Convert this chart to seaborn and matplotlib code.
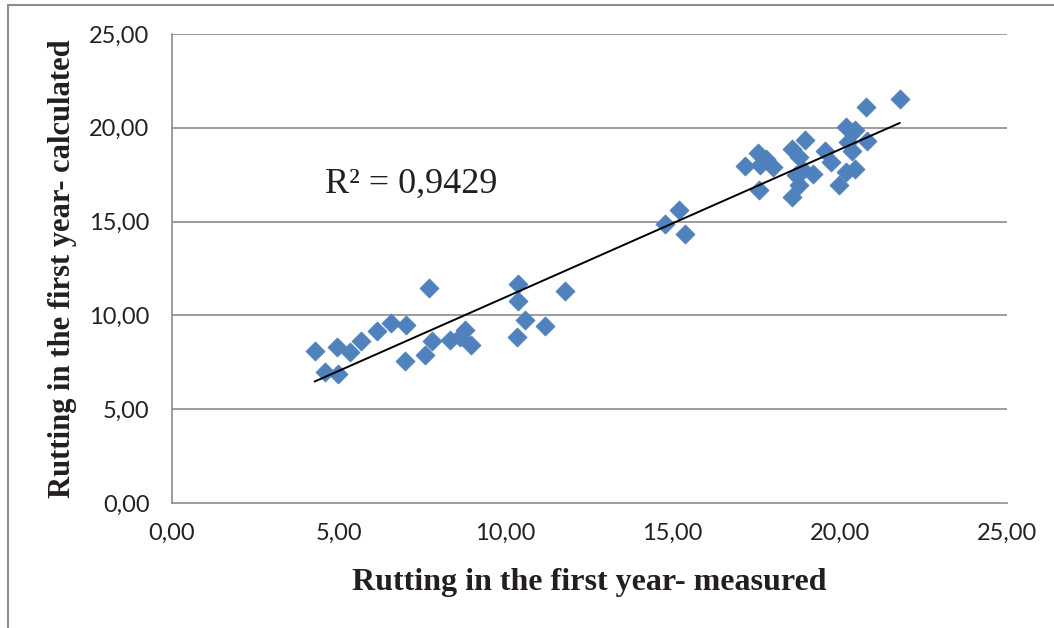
import matplotlib
matplotlib.use("Agg")
from matplotlib import pyplot as plt
from matplotlib.lines import Line2D
from matplotlib.ticker import FuncFormatter, MultipleLocator
import numpy as np
import pandas as pd
import seaborn as sns

# rutting values (measured vs calculated)
measured = [4.28, 4.58, 4.95, 4.98, 5.33, 5.68, 6.16, 6.56, 7.00, 7.69,
            6.98, 7.57, 7.78, 8.32, 8.62, 8.79, 8.97, 10.37, 10.37, 10.59,
            10.35, 11.19, 11.79,
            14.78, 15.18, 15.38, 17.17, 17.55, 17.58, 17.60, 17.80, 18.00,
            18.58, 18.57, 18.97, 18.78, 18.70, 18.78, 19.20, 18.90, 19.57,
            19.75, 19.98, 20.20, 20.45, 20.20, 20.45, 20.25, 20.83, 20.38,
            20.78, 21.80]
calculated = [8.08, 6.96, 8.30, 6.88, 8.03, 8.62, 9.19, 9.58, 9.49, 11.45,
              7.59, 7.89, 8.65, 8.71, 8.83, 9.24, 8.44, 11.65, 10.75, 9.76,
              8.87, 9.46, 11.32,
              14.85, 15.64, 14.32, 17.97, 18.66, 16.70, 18.00, 18.36, 17.91,
              16.31, 18.89, 19.37, 18.45, 17.47, 16.93, 17.56, 17.73, 18.77,
              18.18, 16.93, 17.64, 17.82, 20.05, 19.90, 19.25, 19.28, 18.75,
              21.12, 21.51]
r2_text = "R² = 0,9429"
ticks = [0, 5, 10, 15, 20, 25]

df = pd.DataFrame({"measured": measured, "calculated": calculated})

sns.set_style("white")
fig = plt.figure(figsize=(10.54, 6.28), dpi=100)
ax = fig.add_axes([171.7 / 1054, 125 / 628, 835 / 1054, 469 / 628])

grid_c = "#8c8c8c"
for t in ticks[1:]:
    ax.axhline(t, color=grid_c, lw=1.2, zorder=0)

sns.scatterplot(data=df, x="measured", y="calculated", marker="D", s=95,
                color="#4f81bd", edgecolor="#4f81bd", linewidth=0.5,
                ax=ax, zorder=3)
sns.regplot(data=df, x="measured", y="calculated", scatter=False, ci=None,
            truncate=True, ax=ax,
            line_kws={"color": "black", "lw": 1.4, "zorder": 4})

ax.set_xlim(0, 25)
ax.set_ylim(0, 25)
ax.xaxis.set_major_locator(MultipleLocator(5))
ax.yaxis.set_major_locator(MultipleLocator(5))
fmt = FuncFormatter(lambda v, p: f"{v:.2f}".replace(".", ","))
ax.xaxis.set_major_formatter(fmt)
ax.yaxis.set_major_formatter(fmt)

for side in ["top", "right"]:
    ax.spines[side].set_visible(False)
for side in ["left", "bottom"]:
    ax.spines[side].set_color(grid_c)
    ax.spines[side].set_linewidth(1.2)

ax.tick_params(axis="both", direction="out", length=6, width=1.2,
               color=grid_c, labelsize=17, labelcolor="#222222")
ax.tick_params(axis="x", pad=8)
ax.tick_params(axis="y", pad=10)
for lab in ax.get_xticklabels() + ax.get_yticklabels():
    lab.set_family("Lato")

lbl = dict(family="Liberation Serif", fontweight="bold", color="#231f20")
ax.set_xlabel("Rutting in the first year- measured", labelpad=18,
              fontsize=23, **lbl)
ax.set_ylabel("Rutting in the first year- calculated", labelpad=9,
              fontsize=22, **lbl)

ax.text(4.59, 16.52, r2_text, family="Liberation Serif", fontsize=26,
        color="#231f20", va="baseline", ha="left")

# outer chart frame (only left and top edges are visible)
fx = 8 / 1054
fy = 1 - 5 / 628
fig.add_artist(Line2D([fx, fx], [0, fy], color=grid_c, lw=1.5))
fig.add_artist(Line2D([fx, 1], [fy, fy], color=grid_c, lw=1.5))

fig.savefig("out.png", dpi=100)
